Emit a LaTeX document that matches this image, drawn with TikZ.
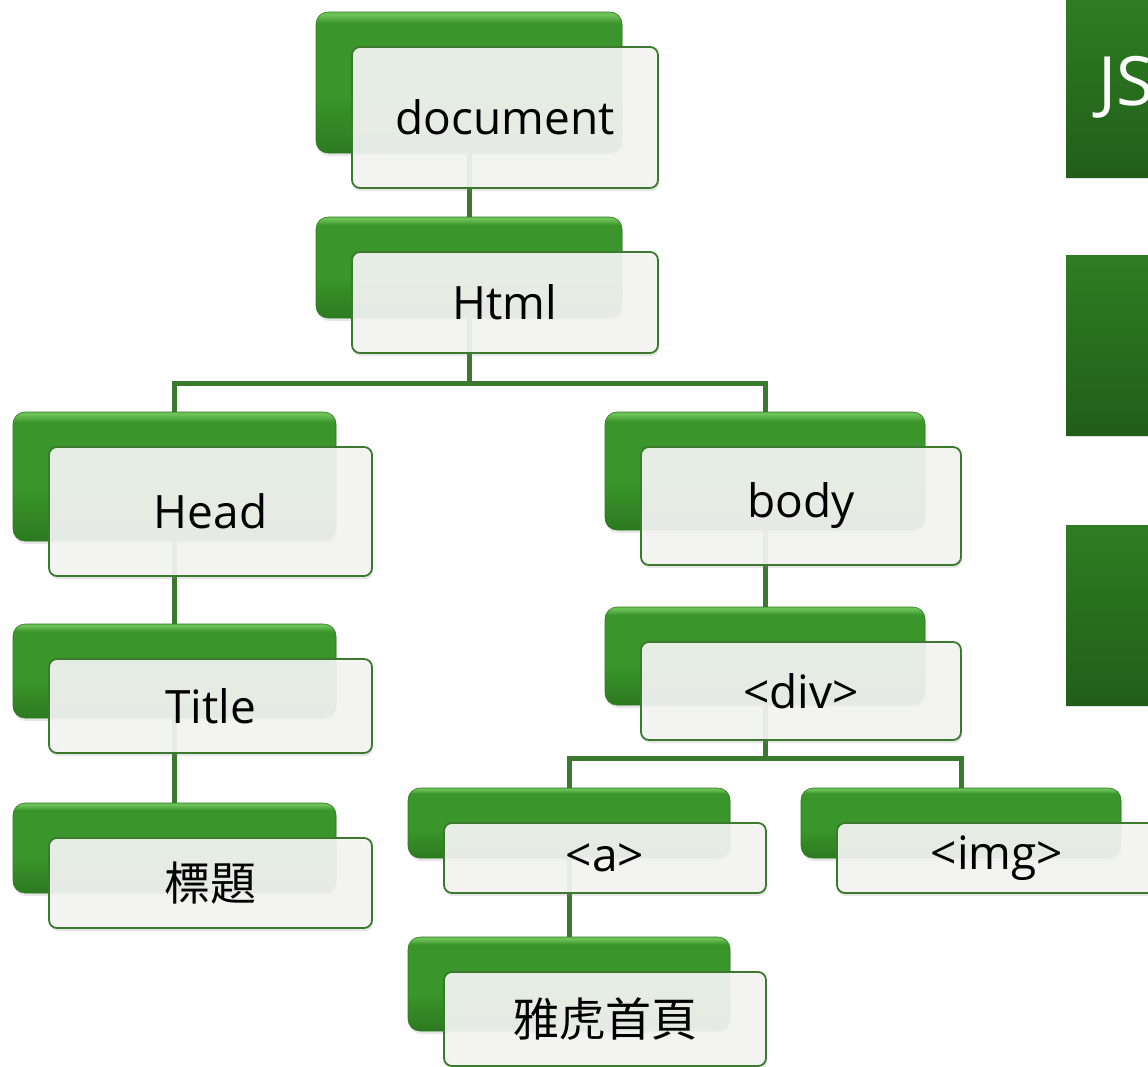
\documentclass[tikz,border=0pt]{standalone}
\usepackage{fontspec}
\setmainfont{Open Sans}
\newfontfamily\cjk{Noto Sans CJK TC}
\usepackage{xcolor}
\usepackage{tikz}
\usetikzlibrary{calc}
\usetikzlibrary{shadows,backgrounds}
\definecolor{G0}{HTML}{6CC158}
\definecolor{G1}{HTML}{3A952A}
\definecolor{G2}{HTML}{2C7A20}
\definecolor{G3}{HTML}{3B7A2E}
\definecolor{G4}{HTML}{2E7D22}
\definecolor{G5}{HTML}{215E19}
\definecolor{P0}{HTML}{F4F5F3}
\pgfdeclareverticalshading{gboxshade}{100bp}{color(0bp)=(G2); color(25bp)=(G2); color(45bp)=(G1); color(71bp)=(G1); color(74bp)=(G0); color(100bp)=(G0)}
\pgfdeclareverticalshading{gpanelshade}{100bp}{color(0bp)=(G5); color(25bp)=(G5); color(75bp)=(G4); color(100bp)=(G4)}

\begin{document}
\begin{tikzpicture}[x=1pt,y=-1pt]
\tikzstyle{back}=[draw=G2, line width=0.6pt, rounded corners=12pt, shading=gboxshade, inner sep=0pt, drop shadow={opacity=0.2, shadow xshift=1pt, shadow yshift=-3pt}]
\tikzstyle{front}=[draw=G3, line width=1.8pt, rounded corners=8pt, fill=P0, fill opacity=0.92, text opacity=1, inner sep=0pt, font=\fontsize{46}{52}\selectfont, drop shadow={opacity=0.2, shadow xshift=1pt, shadow yshift=-3pt}]
\tikzstyle{panel}=[shading=gpanelshade, inner sep=0pt, anchor=north west, drop shadow={opacity=0.25, shadow xshift=1pt, shadow yshift=-2pt}]
\tikzstyle{link}=[draw=G3, line width=5pt]
\useasboundingbox (0,0) rectangle (1148,1066);
%
\node[back, minimum width=306pt, minimum height=141pt](docb) at (469,82.5){};
\node[front, minimum width=306pt, minimum height=141pt](doc) at ($(docb)+(36,35)$){document};
\node[back, minimum width=306pt, minimum height=101pt](htmlb) at (469,267.5){};
\node[front, minimum width=306pt, minimum height=101pt](html) at ($(htmlb)+(36,35)$){Html};
%
\node[back, minimum width=323pt, minimum height=129pt](headb) at (174.5,476.5){};
\node[front, minimum width=323pt, minimum height=129pt](head) at ($(headb)+(36,35)$){Head};
\node[back, minimum width=323pt, minimum height=94pt](titleb) at (174.5,671){};
\node[front, minimum width=323pt, minimum height=94pt](title) at ($(titleb)+(36,35)$){Title};
\node[back, minimum width=323pt, minimum height=90pt](biaotib) at (174.5,848){};
\node[front, minimum width=323pt, minimum height=90pt](biaoti) at ($(biaotib)+(36,35)$){\cjk 標題};
%
\node[back, minimum width=320pt, minimum height=118pt](bodyb) at (765,471){};
\node[front, minimum width=320pt, minimum height=118pt](body) at ($(bodyb)+(36,35)$){body};
\node[back, minimum width=320pt, minimum height=98pt](divb) at (765,656){};
\node[front, minimum width=320pt, minimum height=98pt](div) at ($(divb)+(36,35)$){<div>};
%
\node[back, minimum width=322pt, minimum height=70pt](ab) at (569,823){};
\node[front, minimum width=322pt, minimum height=70pt](a) at ($(ab)+(36,35)$){<a>};
\node[back, minimum width=320pt, minimum height=70pt](imgb) at (961,823){};
\node[front, minimum width=320pt, minimum height=70pt](img) at ($(imgb)+(36,35)$){<img>};
\node[back, minimum width=322pt, minimum height=94pt](yahoob) at (569,984){};
\node[front, minimum width=322pt, minimum height=94pt](yahoo) at ($(yahoob)+(36,35)$){\cjk 雅虎首頁};
%
\node[panel, minimum width=120pt, minimum height=180pt](jsp) at (1066,-3){};
\node[anchor=west, text=white, inner sep=0pt, font=\fontsize{68}{76}\selectfont](js) at (1098,87){JS};
\node[panel, minimum width=120pt, minimum height=180pt](p2) at (1066,255){};
\node[panel, minimum width=120pt, minimum height=180pt](p3) at (1066,525){};
%
\begin{scope}[on background layer]
\draw[link] (docb.south) -- (htmlb.north);
\draw[link] (htmlb.south) -- ++(0,65) -| (headb.north);
\draw[link] (htmlb.south) -- ++(0,65) -| (bodyb.north);
\draw[link] (headb.south) -- (titleb.north);
\draw[link] (titleb.south) -- (biaotib.north);
\draw[link] (bodyb.south) -- (divb.north);
\draw[link] (divb.south) -- ++(0,53) -| (ab.north);
\draw[link] (divb.south) -- ++(0,53) -| (imgb.north);
\draw[link] (ab.south) -- (yahoob.north);
\end{scope}
%
\end{tikzpicture}
\end{document}
